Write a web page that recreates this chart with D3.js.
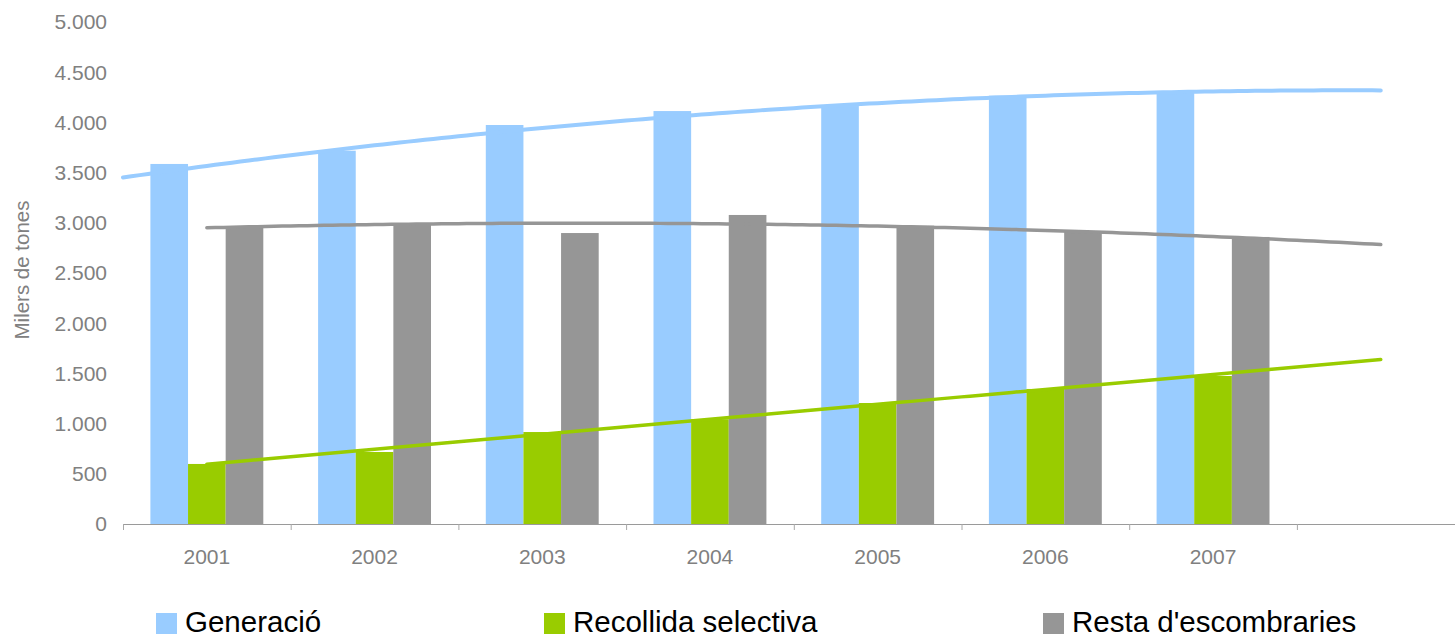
<!DOCTYPE html>
<html>
  <head>
    <meta charset="utf-8">
    <style>
      body { margin: 0; background: #fff; }
      text { font-family: "Liberation Sans", Arial, sans-serif; }
    </style>
    <script src="https://cdnjs.cloudflare.com/ajax/libs/d3/7.8.5/d3.min.js"></script>
  </head>
  <body>
    <svg width="1455" height="635" id="SVG"></svg>
    <script>
      // data (milers de tones)
      var years = ["2001", "2002", "2003", "2004", "2005", "2006", "2007"];
      var generacio = [3586, 3718, 3974, 4113, 4163, 4266, 4313];
      var recollida = [598, 717, 916, 1043, 1205, 1345, 1474];
      var resta = [2968, 2988, 2898, 3078, 2971, 2912, 2859];
      var seriesNames = ["Generació", "Recollida selectiva", "Resta d'escombraries"];
      var yTicks = [0, 500, 1000, 1500, 2000, 2500, 3000, 3500, 4000, 4500, 5000];

      var colors = ["#99ccff", "#99cc00", "#969696"];
      var seriesValues = [generacio, recollida, resta];

      var svg = d3.select("#SVG");
      var plotLeft = 123, plotRight = 1464.6, plotTop = 22, plotBottom = 524;

      // one empty slot after 2007 like the original
      var slots = years.concat([" "]);
      var x0 = d3.scaleBand().domain(slots).range([plotLeft, plotRight]);
      var x1 = d3.scaleBand().domain(seriesNames).range([0, x0.bandwidth()]).paddingOuter(0.728);
      var xLin = d3.scaleLinear().domain([0.5, slots.length + 0.5]).range([plotLeft, plotRight]);
      var y = d3.scaleLinear().domain([0, 5000]).range([plotBottom, plotTop]);

      var fmt = function(v) { return d3.format(",")(v).replace(/,/g, "."); };

      // y tick labels
      svg.append("g").selectAll("text")
         .data(yTicks)
         .enter().append("text")
         .attr("x", 107)
         .attr("y", function(d) { return y(d); })
         .attr("dy", "0.35em")
         .attr("text-anchor", "end")
         .attr("font-size", 21)
         .attr("fill", "#808080")
         .text(fmt);

      svg.append("text")
         .attr("transform", "translate(29,270) rotate(-90)")
         .attr("text-anchor", "middle")
         .attr("font-size", 20.5)
         .attr("fill", "#808080")
         .text("Milers de tones");

      // bars
      var groups = svg.append("g").selectAll("g")
                      .data(years)
                      .enter().append("g")
                      .attr("transform", function(d) { return "translate(" + x0(d) + ",0)"; });

      groups.selectAll("rect")
            .data(function(d, i) {
              return seriesNames.map(function(s, k) { return { name: s, value: seriesValues[k][i], color: colors[k] }; });
            })
            .enter().append("rect")
            .attr("x", function(d) { return x1(d.name); })
            .attr("width", x1.bandwidth())
            .attr("y", function(d) { return y(d.value); })
            .attr("height", function(d) { return plotBottom - y(d.value); })
            .attr("fill", function(d) { return d.color; });

      // x axis
      var axis = svg.append("g");
      axis.append("line")
          .attr("x1", plotLeft).attr("x2", plotRight)
          .attr("y1", plotBottom + 0.5).attr("y2", plotBottom + 0.5)
          .attr("stroke", "#9a9a9a").attr("stroke-width", 1.2);
      axis.selectAll(".tick")
          .data(slots)
          .enter().append("line")
          .attr("x1", function(d) { return x0(d) + 0.5; })
          .attr("x2", function(d) { return x0(d) + 0.5; })
          .attr("y1", plotBottom).attr("y2", plotBottom + 6)
          .attr("stroke", "#a8a8a8");
      axis.selectAll("text")
          .data(years)
          .enter().append("text")
          .attr("x", function(d) { return x0(d) + x0.bandwidth() / 2; })
          .attr("y", plotBottom + 40)
          .attr("text-anchor", "middle")
          .attr("font-size", 21)
          .attr("fill", "#808080")
          .text(function(d) { return d; });

      // least squares polynomial fit, x = 1..n
      function polyFit(vals, order) {
        var n = order + 1, A = [], b = [];
        for (var r = 0; r < n; r++) {
          A.push([]);
          for (var c = 0; c < n; c++) {
            A[r].push(d3.sum(vals, function(v, i) { return Math.pow(i + 1, r + c); }));
          }
          b.push(d3.sum(vals, function(v, i) { return v * Math.pow(i + 1, r); }));
        }
        // gaussian elimination
        for (var p = 0; p < n; p++) {
          for (var q = p + 1; q < n; q++) {
            var f = A[q][p] / A[p][p];
            for (var k = p; k < n; k++) A[q][k] -= f * A[p][k];
            b[q] -= f * b[p];
          }
        }
        var coef = new Array(n);
        for (var p2 = n - 1; p2 >= 0; p2--) {
          var s = b[p2];
          for (var k2 = p2 + 1; k2 < n; k2++) s -= A[p2][k2] * coef[k2];
          coef[p2] = s / A[p2][p2];
        }
        return function(t) { return d3.sum(coef, function(cf, i) { return cf * Math.pow(t, i); }); };
      }

      var trends = [
        { fit: polyFit(generacio, 2), from: 0.5, to: 8, color: colors[0], w: 4 },
        { fit: polyFit(resta, 2), from: 1, to: 8, color: colors[2], w: 3.5 },
        { fit: polyFit(recollida, 1), from: 1, to: 8, color: colors[1], w: 3.5 }
      ];

      var line = d3.line()
                   .x(function(d) { return xLin(d[0]); })
                   .y(function(d) { return y(d[1]); });

      trends.forEach(function(t) {
        var pts = d3.range(t.from, t.to + 0.0001, 0.05).map(function(v) { return [v, t.fit(v)]; });
        svg.append("path")
           .attr("d", line(pts))
           .attr("fill", "none")
           .attr("stroke", t.color)
           .attr("stroke-width", t.w)
           .attr("stroke-linecap", "round");
      });

      // legend
      var legendX = [156, 544, 1043];
      var legend = svg.append("g").selectAll("g")
                      .data(seriesNames)
                      .enter().append("g")
                      .attr("transform", function(d, i) { return "translate(" + legendX[i] + ",613)"; });
      legend.append("rect")
            .attr("width", 21).attr("height", 21)
            .attr("fill", function(d, i) { return colors[i]; });
      legend.append("text")
            .attr("x", 29)
            .attr("y", 19)
            .attr("font-size", 29.5)
            .attr("fill", "#000")
            .text(function(d) { return d; });
    </script>
  </body>
</html>
